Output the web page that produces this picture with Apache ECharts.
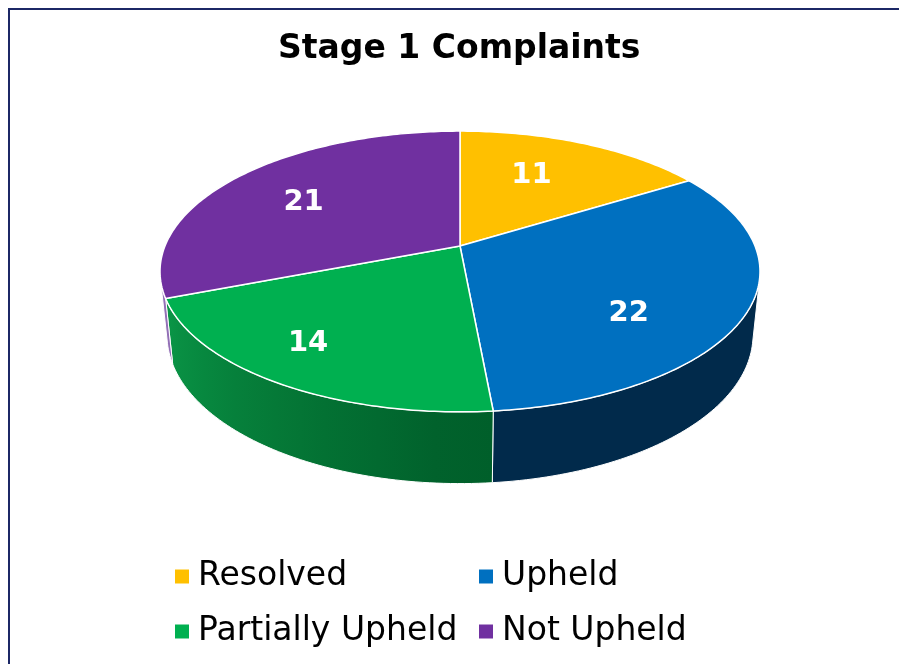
<!DOCTYPE html>
<html>
<head>
<meta charset="utf-8">
<script src="https://cdn.jsdelivr.net/npm/echarts@6/dist/echarts.min.js"></script>
<style>
  html, body { margin: 0; padding: 0; background: #fff; overflow: hidden; }
  #chart { width: 899px; height: 664px; }
</style>
</head>
<body>
<div id="chart"></div>
<script>
// data
const categories = ['Resolved', 'Upheld', 'Partially Upheld', 'Not Upheld'];
const values = [11, 22, 14, 21];

// styles
const colors = ['#FFC000', '#0070C0', '#00B050', '#7030A0'];
const wallShades = [['#8a6a00', '#c89a00'], ['#012a4b', '#0a3558'], ['#005f2a', '#0b9d4a'], ['#4a1d6e', '#9a78be']];
// label placement tweaks (radius fraction, angle shift in degrees)
const labelPlace = [[0.63, -4], [0.695, 14.5], [0.78, 4], [0.66, -3]];

// 3d pie camera
const CX = 460, CY = 246, S = 295, D = 4.89, DEPTH = 0.245;
const TILT = 27.4 * Math.PI / 180;
const sA = Math.sin(TILT), cA = Math.cos(TILT);
const VIS0 = Math.acos(-1 / (D * cA));
const VIS1 = 2 * Math.PI - VIS0;

// theta clockwise from the far side, r as fraction of radius, y height (0 = top face)
function project(theta, r, y) {
  const X = r * Math.sin(theta), Z = -r * Math.cos(theta);
  const u = y * cA - Z * sA;
  const w = y * sA + Z * cA;
  const k = D / (D - w);
  return [CX + X * S * k, CY - u * S * k];
}

function hexToRgb(h) {
  const n = parseInt(h.slice(1), 16);
  return [(n >> 16) & 255, (n >> 8) & 255, n & 255];
}
function mix(a, b, f) {
  const A = hexToRgb(a), B = hexToRgb(b);
  return 'rgb(' + A.map((v, i) => Math.round(v + (B[i] - v) * f)).join(',') + ')';
}
function wallColor(i, t) {
  const f = Math.min(1, Math.max(0, (t - Math.PI) / (VIS1 - Math.PI)));
  return mix(wallShades[i][0], wallShades[i][1], f);
}

function sliceRenderer(i) {
  return function (params, api) {
    const total = values.reduce((a, b) => a + b, 0);
    const before = values.slice(0, i).reduce((a, b) => a + b, 0);
    const v = api.value(0);
    const start = before / total * 2 * Math.PI;
    const end = start + v / total * 2 * Math.PI;
    const children = [];

    // outer wall (only the part facing the viewer)
    const ws = Math.max(start, VIS0), we = Math.min(end, VIS1);
    if (we > ws) {
      const n = Math.max(2, Math.ceil((we - ws) / 0.02));
      const top = [], bot = [], stops = [];
      for (let k = 0; k <= n; k++) {
        const t = ws + (we - ws) * k / n;
        top.push(project(t, 1, 0));
        bot.push(project(t, 1, -DEPTH));
      }
      const xs = top.map(p => p[0]);
      const x0 = Math.min(...xs), x1 = Math.max(...xs);
      for (let k = 0; k <= 8; k++) {
        const t = ws + (we - ws) * k / 8;
        const x = project(t, 1, 0)[0];
        stops.push({ offset: x1 > x0 ? (x - x0) / (x1 - x0) : 0, color: wallColor(i, t) });
      }
      stops.sort((a, b) => a.offset - b.offset);
      children.push({
        type: 'polygon', z2: 1,
        shape: { points: top.concat(bot.reverse()) },
        style: {
          fill: { type: 'linear', x: x0, y: 0, x2: x1, y2: 0, global: true, colorStops: stops },
          stroke: '#ffffff', lineWidth: 1
        }
      });
    }

    // top face
    const pts = [project(0, 0, 0)];
    const m = Math.max(2, Math.ceil((end - start) / 0.015));
    for (let k = 0; k <= m; k++) pts.push(project(start + (end - start) * k / m, 1, 0));
    children.push({
      type: 'polygon', z2: 10,
      shape: { points: pts },
      style: { fill: colors[i], stroke: '#ffffff', lineWidth: 1.5, lineJoin: 'round' }
    });

    // value label
    const lp = labelPlace[i];
    const p = project((start + end) / 2 + lp[1] * Math.PI / 180, lp[0], 0);
    children.push({
      type: 'text', z2: 20,
      style: {
        text: String(v), x: p[0], y: p[1],
        fill: '#ffffff', font: 'bold 29px "DejaVu Sans"',
        align: 'center', verticalAlign: 'middle'
      }
    });

    return { type: 'group', children: children };
  };
}

const chart = echarts.init(document.getElementById('chart'));

const legendBase = {
  orient: 'vertical',
  top: 554,
  icon: 'rect',
  itemWidth: 14,
  itemHeight: 14,
  itemGap: 20,
  selectedMode: false,
  textStyle: {
    fontFamily: 'DejaVu Sans', fontSize: 33, lineHeight: 35, color: '#000',
    padding: [0, 0, 0, 4]
  }
};

chart.setOption({
  animation: false,
  backgroundColor: '#ffffff',
  title: {
    text: 'Stage 1 Complaints',
    left: 278,
    top: 33,
    padding: 0,
    textStyle: { fontFamily: 'DejaVu Sans', fontWeight: 'bold', fontSize: 33, color: '#000' }
  },
  // chart frame, top and left edges
  graphic: [
    { type: 'rect', silent: true, shape: { x: 8, y: 8, width: 891, height: 2 }, style: { fill: '#1c2866' } },
    { type: 'rect', silent: true, shape: { x: 8, y: 8, width: 2, height: 656 }, style: { fill: '#1c2866' } }
  ],
  legend: [
    Object.assign({}, legendBase, { left: 170, data: [categories[0], categories[2]] }),
    Object.assign({}, legendBase, { left: 474, data: [categories[1], categories[3]] })
  ],
  series: categories.map((name, i) => ({
    type: 'custom',
    name: name,
    coordinateSystem: 'none',
    silent: true,
    itemStyle: { color: colors[i] },
    data: [values[i]],
    renderItem: sliceRenderer(i)
  }))
});
</script>
</body>
</html>
